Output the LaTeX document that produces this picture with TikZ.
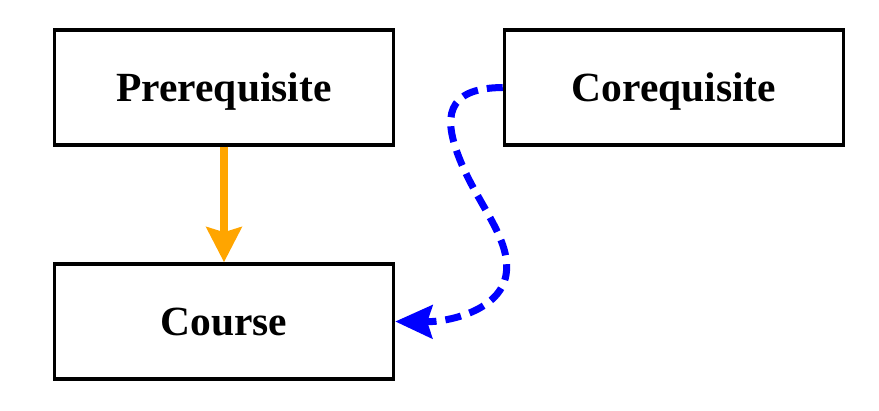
\documentclass[tikz,border=0pt]{standalone}
\usepackage{fontspec}
\setmainfont{Liberation Serif}
\usetikzlibrary{arrows.meta}
\definecolor{arrorange}{RGB}{255,165,0}
\definecolor{arrblue}{RGB}{0,0,255}
\begin{document}
\begin{tikzpicture}[x=1pt,y=-1pt,
  box/.style={draw=black, line width=3.5pt, minimum width=339pt, minimum height=115pt, inner sep=0pt,
    text height=28pt, text depth=0pt,
    font=\fontsize{41.5}{48}\selectfont\bfseries},
  prereqarrow/.style={draw=arrorange, line width=8pt, -{Stealth[length=35pt,width=35pt,inset=5pt]}},
  coreqarrow/.style={draw=arrblue, line width=7pt, dash pattern=on 16pt off 9pt, -{Stealth[length=37pt,width=33pt,inset=5pt]}}
]
\useasboundingbox (0,0) rectangle (879,411);
\node[box] (prereq) at (224,87.5) {Prerequisite};
\node[box] (coreq) at (674,87.5) {Corequisite};
\node[box] (course) at (224,321.5) {Course};
\draw[prereqarrow] (prereq.south) -- (course.north);
\draw[coreqarrow] (coreq.west) .. controls (445,88) and (443,118) .. (460,160)
  .. controls (478,205) and (512,240) .. (506,275)
  .. controls (500,310) and (450,322) .. (course.east);
\end{tikzpicture}
\end{document}
